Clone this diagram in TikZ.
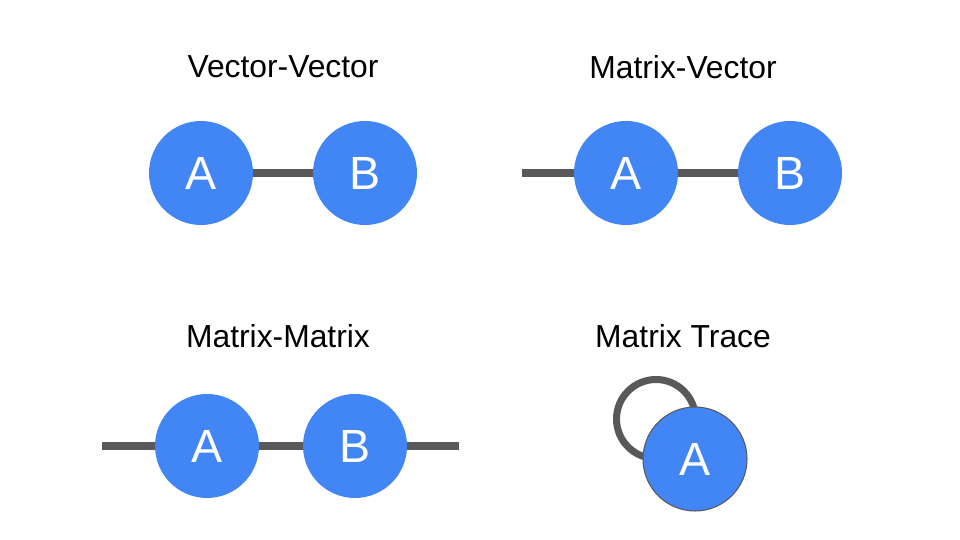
\documentclass[tikz,border=0pt]{standalone}
\usepackage{fontspec}
\setmainfont{Liberation Sans}
\usepackage{tikz}
\usetikzlibrary{positioning}
\definecolor{tensorblue}{HTML}{4285F4}
\definecolor{wiregray}{HTML}{595959}
\tikzstyle{tensor} = [circle, fill=tensorblue, minimum size=2.08cm, inner sep=0pt, text=white, font=\fontsize{26.5}{30}\selectfont]
\tikzstyle{wire} = [line width=4pt, wiregray]
\tikzstyle{title} = [font=\fontsize{18.1}{21}\selectfont]

\begin{document}
\begin{tikzpicture}
\useasboundingbox (0,0) rectangle (19.2,10.8);

% Vector-Vector
\node[title] at (5.66,9.46) {Vector-Vector};
\node[tensor] (vvA) at (4.02,7.34) {A};
\node[tensor] (vvB) at (7.30,7.34) {B};
\draw[wire] (vvA) -- (vvB);

% Matrix-Vector
\node[title] at (13.66,9.46) {Matrix-Vector};
\coordinate (mvL) at (10.44,7.34);
\node[tensor] (mvA) at (12.52,7.34) {A};
\node[tensor] (mvB) at (15.80,7.34) {B};
\draw[wire] (mvL) -- (mvA);
\draw[wire] (mvA) -- (mvB);

% Matrix-Matrix
\node[title] at (5.56,4.08) {Matrix-Matrix};
\coordinate (mmL) at (2.04,1.88);
\coordinate (mmR) at (9.18,1.88);
\node[tensor] (mmA) at (4.14,1.88) {A};
\node[tensor] (mmB) at (7.10,1.88) {B};
\draw[wire] (mmL) -- (mmA);
\draw[wire] (mmA) -- (mmB);
\draw[wire] (mmB) -- (mmR);

% Matrix Trace (loop drawn first, node on top)
\node[title] at (13.66,4.08) {Matrix Trace};
\draw[wire] (13.12,2.42) circle (0.79);
\node[tensor, draw=wiregray, line width=0.6pt] (trA) at (13.90,1.62) {A};

\end{tikzpicture}
\end{document}
